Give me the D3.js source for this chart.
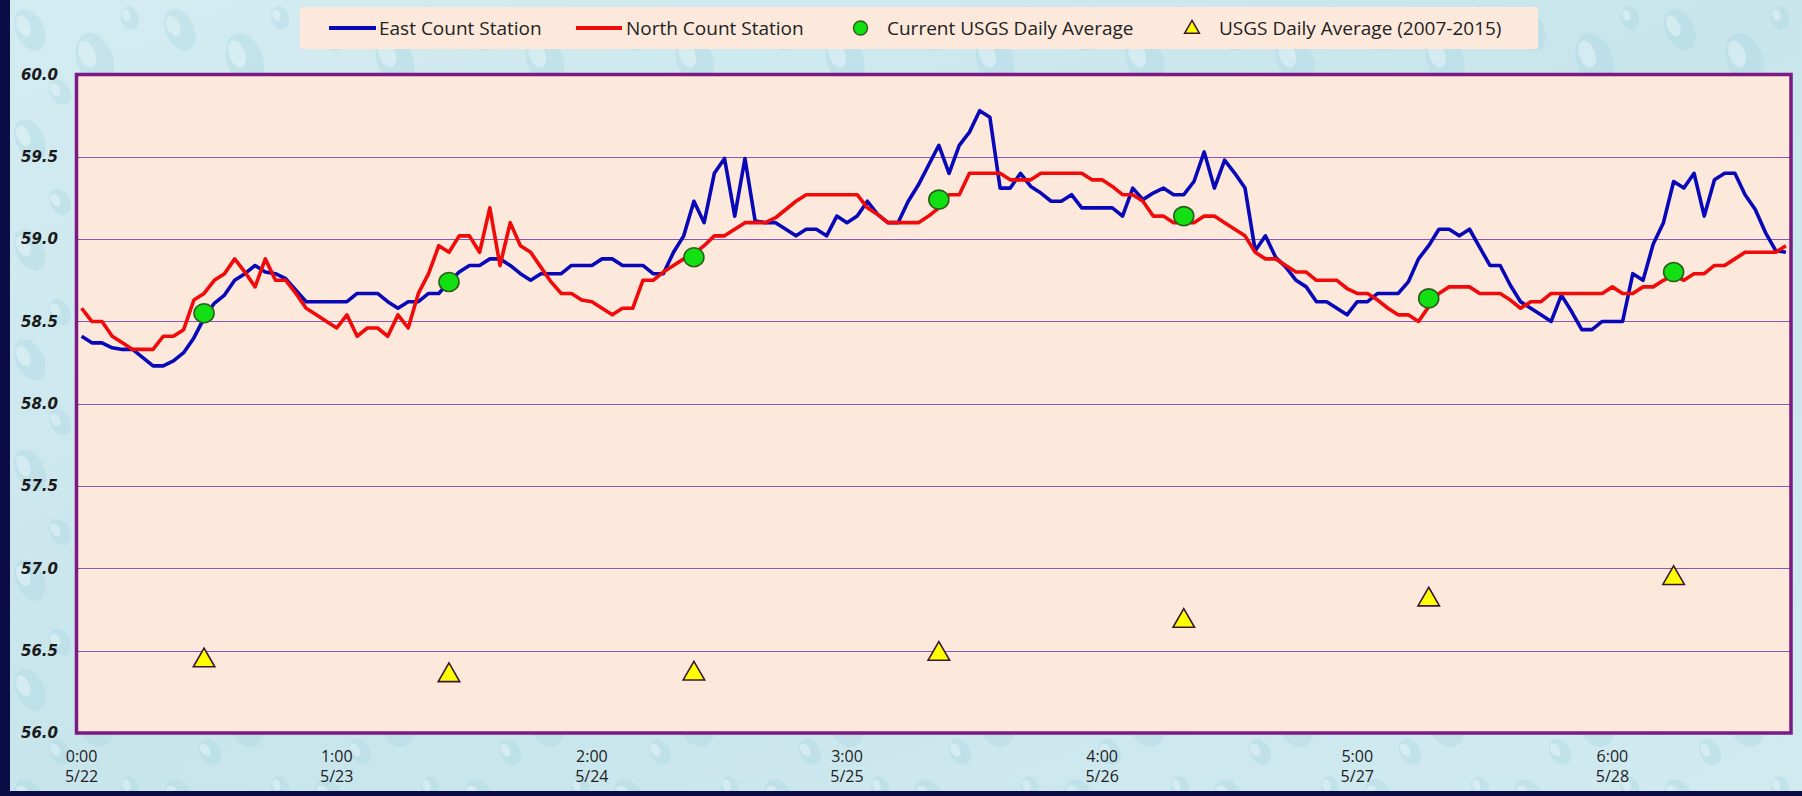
<!DOCTYPE html>
<html><head><meta charset="utf-8">
<script src="https://cdn.jsdelivr.net/npm/d3@7"></script>
<style>html,body{margin:0;padding:0;overflow:hidden;background:#cbe7ee}</style>
</head><body><svg id="c" width="1802" height="796"></svg>
<script>
// ---------------- DATA ----------------
const hours = d3.range(168); // hourly categories, 0:00 5/22 ... 23:00 5/28
const tickIndex = [0, 25, 50, 75, 100, 125, 150];
const tickTime = ["0:00", "1:00", "2:00", "3:00", "4:00", "5:00", "6:00"];
const tickDate = ["5/22", "5/23", "5/24", "5/25", "5/26", "5/27", "5/28"];
const yTicks = [56.0, 56.5, 57.0, 57.5, 58.0, 58.5, 59.0, 59.5, 60.0];

const eastStation = [
58.41,58.37,58.37,58.34,58.33,58.33,58.28,58.23,58.23,58.26,58.31,58.40,58.52,58.61,58.66,58.75,58.79,58.84,58.80,58.79,
58.76,58.69,58.62,58.62,58.62,58.62,58.62,58.67,58.67,58.67,58.62,58.58,58.62,58.62,58.67,58.67,58.74,58.80,58.84,58.84,
58.88,58.88,58.84,58.79,58.75,58.79,58.79,58.79,58.84,58.84,58.84,58.88,58.88,58.84,58.84,58.84,58.79,58.79,58.92,59.02,
59.23,59.10,59.40,59.49,59.14,59.49,59.11,59.10,59.10,59.06,59.02,59.06,59.06,59.02,59.14,59.10,59.14,59.23,59.15,59.10,
59.10,59.23,59.33,59.45,59.57,59.40,59.57,59.65,59.78,59.74,59.31,59.31,59.40,59.32,59.28,59.23,59.23,59.27,59.19,59.19,
59.19,59.19,59.14,59.31,59.24,59.28,59.31,59.27,59.27,59.35,59.53,59.31,59.48,59.40,59.31,58.93,59.02,58.89,58.83,58.75,
58.71,58.62,58.62,58.58,58.54,58.62,58.62,58.67,58.67,58.67,58.74,58.88,58.96,59.06,59.06,59.02,59.06,58.95,58.84,58.84,
58.72,58.62,58.58,58.54,58.50,58.66,58.56,58.45,58.45,58.50,58.50,58.50,58.79,58.75,58.97,59.10,59.35,59.31,59.40,59.14,
59.36,59.40,59.40,59.27,59.18,59.04,58.93,58.92];

const northStation = [
58.58,58.50,58.50,58.41,58.37,58.33,58.33,58.33,58.41,58.41,58.45,58.63,58.67,58.75,58.79,58.88,58.80,58.71,58.88,58.75,
58.75,58.67,58.58,58.54,58.50,58.46,58.54,58.41,58.46,58.46,58.41,58.54,58.46,58.67,58.79,58.96,58.92,59.02,59.02,58.92,
59.19,58.84,59.10,58.96,58.92,58.83,58.74,58.67,58.67,58.63,58.62,58.58,58.54,58.58,58.58,58.75,58.75,58.80,58.84,58.88,
58.91,58.96,59.02,59.02,59.06,59.10,59.10,59.10,59.13,59.18,59.23,59.27,59.27,59.27,59.27,59.27,59.27,59.19,59.15,59.10,
59.10,59.10,59.10,59.14,59.19,59.27,59.27,59.40,59.40,59.40,59.40,59.36,59.36,59.36,59.40,59.40,59.40,59.40,59.40,59.36,
59.36,59.32,59.27,59.27,59.23,59.14,59.14,59.10,59.10,59.10,59.14,59.14,59.10,59.06,59.02,58.92,58.88,58.88,58.84,58.80,
58.80,58.75,58.75,58.75,58.70,58.67,58.67,58.63,58.58,58.54,58.54,58.50,58.59,58.67,58.71,58.71,58.71,58.67,58.67,58.67,
58.63,58.58,58.62,58.62,58.67,58.67,58.67,58.67,58.67,58.67,58.71,58.67,58.67,58.71,58.71,58.75,58.78,58.75,58.79,58.79,
58.84,58.84,58.88,58.92,58.92,58.92,58.92,58.96];

const dailyIndex = [12, 36, 60, 84, 108, 132, 156];
const currentUSGS = [58.55, 58.74, 58.89, 59.24, 59.14, 58.64, 58.80];
const usgsHistoric = [56.44, 56.35, 56.36, 56.48, 56.68, 56.81, 56.94];

const legendLabels = ["East Count Station", "North Count Station", "Current USGS Daily Average", "USGS Daily Average (2007-2015)"];

// ---------------- DRAW ----------------
const svg = d3.select("#c");
const W = 1802, H = 796;
const plot = {l: 76.5, r: 1791, t: 74.5, b: 733};

// background with a soft water-drop texture
const defs = svg.append("defs");
const bg = defs.append("linearGradient").attr("id", "bgG").attr("x1", 0).attr("y1", 0).attr("x2", 1).attr("y2", 1);
bg.append("stop").attr("offset", "0%").attr("stop-color", "#d3ecf1");
bg.append("stop").attr("offset", "50%").attr("stop-color", "#c8e5ec");
bg.append("stop").attr("offset", "100%").attr("stop-color", "#d0eaf0");
svg.append("rect").attr("width", W).attr("height", H).attr("fill", "url(#bgG)");
const pat = defs.append("pattern").attr("id", "drops").attr("patternUnits", "userSpaceOnUse")
  .attr("width", 150).attr("height", 110);
const dropShapes = [[30, 30, 14, 22, -25], [95, 60, 18, 28, -20], [60, 92, 10, 14, -30], [130, 18, 9, 12, -15]];
dropShapes.forEach(s => {
  pat.append("ellipse").attr("cx", s[0]).attr("cy", s[1]).attr("rx", s[2]).attr("ry", s[3])
    .attr("transform", `rotate(${s[4]},${s[0]},${s[1]})`).attr("fill", "#a9d3df").attr("opacity", 0.35);
  pat.append("ellipse").attr("cx", s[0] - s[2] * 0.3).attr("cy", s[1] - s[3] * 0.3).attr("rx", s[2] * 0.45).attr("ry", s[3] * 0.5)
    .attr("transform", `rotate(${s[4]},${s[0]},${s[1]})`).attr("fill", "#eef8fb").attr("opacity", 0.45);
});
svg.append("rect").attr("width", W).attr("height", H).attr("fill", "url(#drops)");
// frame strips
svg.append("rect").attr("x", 0).attr("y", 0).attr("width", 10).attr("height", H).attr("fill", "#0b0b45");
svg.append("rect").attr("x", 0).attr("y", 791).attr("width", W).attr("height", 5).attr("fill", "#0b0b45");

const x = d3.scaleLinear().domain([-0.5, hours.length - 0.5]).range([plot.l, plot.r]);
const y = d3.scaleLinear().domain([56, 60]).range([plot.b, plot.t]);

// plot area
svg.append("rect").attr("x", plot.l).attr("y", plot.t).attr("width", plot.r - plot.l).attr("height", plot.b - plot.t)
  .attr("fill", "#fde9dc");

// grid
svg.append("g").selectAll("line").data(yTicks.slice(1, -1)).join("line")
  .attr("x1", plot.l).attr("x2", plot.r)
  .attr("y1", d => Math.round(y(d)) + 0.5).attr("y2", d => Math.round(y(d)) + 0.5)
  .attr("stroke", "#8a58b0").attr("stroke-width", 1.2);

// border
svg.append("rect").attr("x", plot.l).attr("y", plot.t).attr("width", plot.r - plot.l).attr("height", plot.b - plot.t)
  .attr("fill", "none").attr("stroke", "#7a1a82").attr("stroke-width", 3.5);

// y axis labels
const yAxis = d3.axisLeft(y).tickValues(yTicks).tickFormat(d3.format(".1f")).tickSize(0).tickPadding(0);
const gy = svg.append("g").attr("transform", "translate(58,0)").call(yAxis);
gy.select(".domain").remove();
gy.selectAll("text").attr("font-family", "DejaVu Sans").attr("font-weight", "bold").attr("font-style", "italic")
  .attr("font-size", 15).attr("fill", "#1a1a1a");

// x axis labels
const gx = svg.append("g");
const xl = gx.selectAll("text").data(tickIndex).join("text")
  .attr("x", d => x(d)).attr("text-anchor", "middle")
  .attr("font-family", "Open Sans").attr("font-size", 16).attr("fill", "#222");
xl.append("tspan").attr("x", d => x(d)).attr("y", 762).text((d, i) => tickTime[i]);
xl.append("tspan").attr("x", d => x(d)).attr("y", 782).text((d, i) => tickDate[i]);

// lines
const line = d3.line().x((d, i) => x(hours[i])).y(d => y(d));
svg.append("path").datum(eastStation).attr("d", line).attr("fill", "none")
  .attr("stroke", "#0808b8").attr("stroke-width", 3.6).attr("stroke-linejoin", "round");
svg.append("path").datum(northStation).attr("d", line).attr("fill", "none")
  .attr("stroke", "#f00a0a").attr("stroke-width", 3.6).attr("stroke-linejoin", "round");

// markers
const tri = d3.symbol().type(d3.symbolTriangle).size(200);
svg.append("g").selectAll("path").data(usgsHistoric).join("path")
  .attr("d", tri).attr("transform", (d, i) => `translate(${x(dailyIndex[i])},${y(d)})`)
  .attr("fill", "#ffff00").attr("stroke", "#3a1630").attr("stroke-width", 1.6);
svg.append("g").selectAll("ellipse").data(currentUSGS).join("ellipse")
  .attr("cx", (d, i) => x(dailyIndex[i])).attr("cy", d => y(d)).attr("rx", 10).attr("ry", 9.5)
  .attr("fill", "#12e012").attr("stroke", "#2b5e1e").attr("stroke-width", 1.6);

// legend
const lg = svg.append("g");
lg.append("rect").attr("x", 300).attr("y", 7).attr("width", 1238).attr("height", 42).attr("fill", "#fde9dc");
const ly = 28;
lg.append("line").attr("x1", 329).attr("x2", 376).attr("y1", ly).attr("y2", ly).attr("stroke", "#0808b8").attr("stroke-width", 3.8);
lg.append("line").attr("x1", 576).attr("x2", 622).attr("y1", ly).attr("y2", ly).attr("stroke", "#f00a0a").attr("stroke-width", 3.8);
lg.append("circle").attr("cx", 860.5).attr("cy", ly).attr("r", 7).attr("fill", "#12e012").attr("stroke", "#2b5e1e").attr("stroke-width", 1.4);
lg.append("path").attr("d", d3.symbol().type(d3.symbolTriangle).size(95)).attr("transform", `translate(1192,${ly + 1})`)
  .attr("fill", "#ffff00").attr("stroke", "#3a1630").attr("stroke-width", 1.5);
const lx = [379, 626, 887, 1219];
lg.selectAll("text").data(legendLabels).join("text")
  .attr("x", (d, i) => lx[i]).attr("y", ly).attr("dy", "0.35em")
  .attr("font-family", "Open Sans").attr("font-size", 19).attr("fill", "#222").text(d => d);
</script></body></html>
